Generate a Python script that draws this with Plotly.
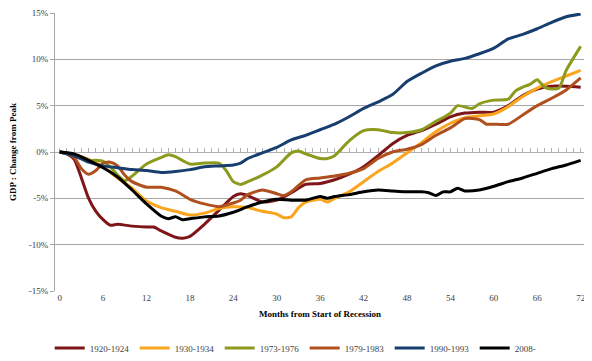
import plotly.graph_objects as go

# Months from start of recession and GDP change from peak (%) for each recession
m1920 = [0,1,2,3,4,5,6,7,8,10,12,13,14,16,17,18,20,22,24,25,26,28,30,32,34,36,38,40,42,44,46,48,50,52,54,56,58,60,62,64,66,68,70,72]
v1920 = [0,-0.2,-0.8,-2.8,-5.0,-6.4,-7.3,-7.9,-7.8,-8.0,-8.1,-8.1,-8.5,-9.2,-9.3,-9.1,-7.8,-6.3,-4.8,-4.5,-4.7,-5.4,-5.2,-4.4,-3.5,-3.4,-3.0,-2.4,-1.6,-0.4,0.9,1.8,2.3,3.0,3.8,4.2,4.3,4.3,5.0,6.1,6.8,7.1,7.1,7.0]

m1930 = [0,2,4,6,8,10,12,14,16,18,20,22,24,26,28,30,31,32,33,34,36,37,38,40,42,44,46,48,50,52,54,56,58,60,62,64,66,68,70,72]
v1930 = [0,-0.3,-0.8,-1.6,-2.8,-3.9,-5.3,-6.0,-6.4,-6.8,-6.6,-6.1,-5.9,-6.0,-6.4,-6.7,-7.1,-7.0,-6.0,-5.4,-5.1,-5.4,-5.0,-4.3,-3.2,-2.1,-1.2,-0.1,1.0,2.2,3.1,3.7,3.9,4.1,4.9,6.0,6.9,7.6,8.2,8.8]

m1973 = [0,2,4,5,6,7,8,9,10,12,14,15,16,18,20,22,23,24,25,26,28,30,32,33,34,36,37,38,40,42,44,46,48,50,52,54,55,57,58,60,62,63,64,65,66,67,68,69,70,72]
v1973 = [0,-0.4,-0.9,-0.9,-1.0,-1.6,-2.5,-3.1,-2.6,-1.3,-0.6,-0.3,-0.5,-1.3,-1.2,-1.2,-2.0,-3.2,-3.5,-3.2,-2.5,-1.6,-0.1,0.1,-0.2,-0.7,-0.7,-0.4,1.2,2.3,2.4,2.1,2.1,2.4,3.3,4.2,5.0,4.7,5.2,5.6,5.7,6.6,7.0,7.3,7.8,7.0,6.8,6.9,8.8,11.4]

m1979 = [0,1,2,3,4,5,6,7,8,9,10,12,14,16,18,20,22,24,25,26,28,30,31,32,34,36,38,40,42,44,46,48,50,52,54,56,58,59,60,62,64,66,68,70,72]
v1979 = [0,-0.1,-0.6,-1.8,-2.4,-2.0,-1.2,-1.1,-1.5,-2.5,-3.2,-3.8,-3.8,-4.2,-5.1,-5.6,-5.9,-5.5,-5.2,-4.6,-4.1,-4.5,-4.7,-4.3,-3.0,-2.8,-2.6,-2.3,-1.8,-0.7,0.0,0.3,0.8,1.8,2.6,3.6,3.5,3.0,3.0,3.0,4.0,5.0,5.8,6.7,8.0]

m1990 = [0,2,4,6,8,10,12,14,16,18,20,22,24,25,26,28,30,32,34,36,38,40,42,44,46,48,50,52,54,56,58,60,62,64,66,68,70,72]
v1990 = [0,-0.4,-1.1,-1.5,-1.7,-1.9,-2.0,-2.2,-2.1,-1.9,-1.6,-1.5,-1.4,-1.2,-0.7,-0.1,0.5,1.3,1.8,2.4,3.0,3.8,4.7,5.4,6.2,7.6,8.5,9.3,9.8,10.1,10.6,11.2,12.2,12.7,13.3,14.0,14.6,14.9]

m2008 = [0,2,4,6,8,10,12,14,15,16,17,18,20,22,24,26,28,30,32,34,36,37,38,40,42,44,46,48,50,51,52,53,54,55,56,58,60,62,64,66,68,70,72]
v2008 = [0,-0.2,-0.9,-1.7,-2.7,-4.1,-5.6,-6.9,-7.2,-7.0,-7.3,-7.2,-7.0,-6.9,-6.5,-5.9,-5.4,-5.1,-5.2,-5.2,-4.8,-5.0,-4.8,-4.6,-4.3,-4.1,-4.2,-4.3,-4.3,-4.4,-4.7,-4.3,-4.3,-3.9,-4.2,-4.1,-3.7,-3.2,-2.8,-2.3,-1.8,-1.4,-0.9]

series_names = ["1920-1924", "1930-1934", "1973-1976", "1979-1983", "1990-1993", "2008-"]
x_ticks = [0, 6, 12, 18, 24, 30, 36, 42, 48, 54, 60, 66, 72]
y_ticks = [-15, -10, -5, 0, 5, 10, 15]
y_tick_labels = ["-15%", "-10%", "-5%", "0%", "5%", "10%", "15%"]

colors = ["#7E1518", "#FBA51E", "#8C9A1E", "#B0501E", "#173E6F", "#000000"]
data = [(m1920, v1920), (m1930, v1930), (m1973, v1973), (m1979, v1979), (m1990, v1990), (m2008, v2008)]

FONT = "Liberation Serif"

fig = go.Figure()
for name, (mx, vy), c in zip(series_names, data, colors):
    fig.add_trace(go.Scatter(
        x=mx, y=vy, name=name, mode="lines",
        line=dict(color=c, width=3, shape="spline", smoothing=0.6),
    ))

xr = [-0.65, 72.6]
# the page body adds an 8px offset, so the figure is 8px smaller than the window
fig.update_layout(
    width=584, height=353,
    margin=dict(l=47, r=7, t=5, b=70, autoexpand=False),
    paper_bgcolor="white", plot_bgcolor="white",
    font=dict(family=FONT, size=9, color="#404040"),
    # main x axis: drawn on the 0% line with a small tick every month
    xaxis=dict(
        range=xr, anchor="free", position=0.5,
        showline=True, linecolor="#B0B0B0", linewidth=1,
        ticks="inside", ticklen=4, tickcolor="#B0B0B0", dtick=1, tick0=0,
        showticklabels=False, showgrid=False, zeroline=False, automargin=False,
        layer="below traces",
    ),
    # label axis at the bottom
    xaxis2=dict(
        range=xr, overlaying="x", anchor="y", side="bottom",
        tickmode="array", tickvals=x_ticks,
        showgrid=False, zeroline=False, showline=False, ticks="", automargin=False,
        tickfont=dict(family=FONT, size=9, color="#404040"),
        title=dict(text="<b>Months from Start of Recession</b>",
                   font=dict(family=FONT, size=9, color="#000000"), standoff=8),
    ),
    yaxis=dict(
        range=[-15, 15], tickmode="array", tickvals=y_ticks, ticktext=y_tick_labels,
        showgrid=True, gridcolor="#A6A6A6", gridwidth=1,
        zeroline=True, zerolinecolor="#B0B0B0", zerolinewidth=1,
        showline=True, linecolor="#A6A6A6", linewidth=1,
        ticks="outside", ticklen=4, tickcolor="#A6A6A6", automargin=False,
        tickfont=dict(family=FONT, size=9, color="#404040"),
        title=dict(text="<b>GDP : Change from Peak</b>",
                   font=dict(family=FONT, size=9, color="#000000"), standoff=10),
    ),
    legend=dict(
        orientation="h", x=-0.01, xanchor="left", y=-0.205, yanchor="middle",
        entrywidth=40, entrywidthmode="pixels",
        font=dict(family=FONT, size=9, color="#404040"),
        bgcolor="rgba(0,0,0,0)",
    ),
    showlegend=True,
)

# invisible trace on the bottom label axis so that it is rendered
fig.add_trace(go.Scatter(x=[0], y=[0], xaxis="x2", mode="markers",
                         marker=dict(opacity=0), showlegend=False, hoverinfo="skip"))

fig.write_html("out.html")
